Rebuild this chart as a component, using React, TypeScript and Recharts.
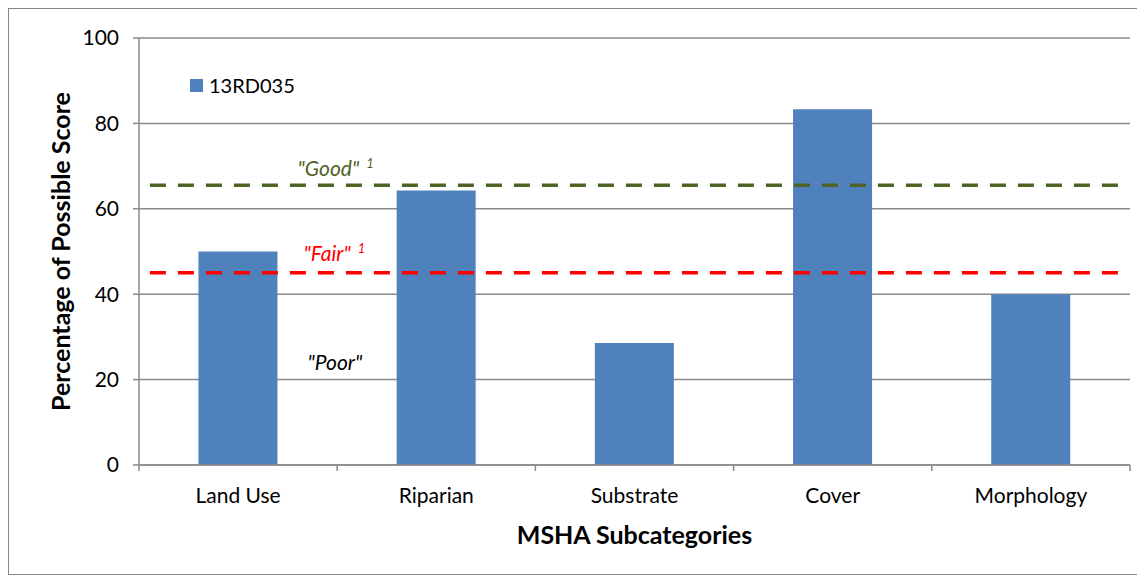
import React from "react";
import {
  ComposedChart,
  Bar,
  XAxis,
  YAxis,
  CartesianGrid,
  ReferenceLine,
  ReferenceDot,
  Legend,
} from "recharts";

const categories = ["Land Use", "Riparian", "Substrate", "Cover", "Morphology"];
const scores = [50, 64.3, 28.6, 83.3, 40];
const yTicks = [0, 20, 40, 60, 80, 100];
const seriesName = "13RD035";
const goodThreshold = 65.5;
const fairThreshold = 45;
// threshold line extent, in category-band units (0..5)
const lineStart = 0.055;
const lineEnd = 4.94;
// annotation anchors: [band position, value]
const goodLabelPos = [0.8, 67.7];
const fairLabelPos = [0.83, 47.8];
const poorLabelPos = [0.85, 22.2];

const data = categories.map((c, i) => ({ name: c, score: scores[i], pos: i + 0.5 }));

const GRID = "#8a8a8a";
const FONT = "Lato, 'Noto Sans', sans-serif";

const CatTick = (props: any) => {
  const { x, y, payload, index, visibleTicksCount } = props;
  const off = payload && payload.offset != null ? payload.offset : 0;
  const isLast = index === (visibleTicksCount ?? categories.length) - 1;
  return (
    <g>
      <line x1={x - off} x2={x - off} y1={y} y2={y + 6} stroke={GRID} strokeWidth={1.5} />
      {isLast && (
        <line x1={x + off} x2={x + off} y1={y} y2={y + 6} stroke={GRID} strokeWidth={1.5} />
      )}
      <text x={x} y={y + 38} textAnchor="middle" fill="#000" fontSize={21} fontFamily={FONT}>
        {payload.value}
      </text>
    </g>
  );
};

const makeShape = (text: string, color: string, sup: boolean) => (p: any) => (
  <text x={p.cx} y={p.cy} fill={color} fontFamily={FONT} fontStyle="italic" fontSize={21}>
    {text}
    {sup && (
      <tspan dx={7} dy={-8} fontSize={13}>
        1
      </tspan>
    )}
  </text>
);

const LegendContent = () => (
  <div style={{ display: "flex", alignItems: "center", fontFamily: FONT, fontSize: 20, color: "#000" }}>
    <div style={{ width: 13, height: 13, background: "#4F81BD", marginRight: 6 }} />
    <span>{seriesName}</span>
  </div>
);

export default function App() {
  return (
    <div style={{ width: 1131, height: 565, border: "1px solid #868686", background: "#fff" }}>
      <ComposedChart
        width={1131}
        height={565}
        data={data}
        margin={{ top: 29, right: 10, bottom: 0, left: 0 }}
        barCategoryGap="30%"
      >
        <CartesianGrid vertical={false} stroke={GRID} strokeWidth={1.5} />
        <XAxis
          dataKey="name"
          tickLine={false}
          tickSize={0}
          tickMargin={0}
          height={109}
          axisLine={{ stroke: GRID, strokeWidth: 1.5 }}
          tick={<CatTick />}
          interval={0}
          label={{
            value: "MSHA Subcategories",
            position: "insideBottom",
            offset: 30,
            fill: "#000",
            fontSize: 25,
            fontWeight: "bold",
            fontFamily: FONT,
          }}
        />
        <XAxis
          xAxisId="n"
          dataKey="pos"
          type="number"
          domain={[0, 5]}
          allowDataOverflow
          hide
        />
        <YAxis
          domain={[0, 100]}
          ticks={yTicks}
          width={130}
          tickSize={6}
          tickMargin={14}
          interval={0}
          axisLine={{ stroke: GRID, strokeWidth: 1.5 }}
          tickLine={{ stroke: GRID, strokeWidth: 1.5 }}
          tick={{ fill: "#000", fontSize: 21, fontFamily: FONT }}
          label={{
            content: (p: any) => {
              const vb = p.viewBox || {};
              const cx = vb.x + 51;
              const cy = vb.y + vb.height / 2;
              return (
                <text
                  x={cx}
                  y={cy}
                  transform={`rotate(-90 ${cx} ${cy})`}
                  textAnchor="middle"
                  dominantBaseline="central"
                  fill="#000"
                  fontSize={25}
                  fontWeight="bold"
                  fontFamily={FONT}
                >
                  Percentage of Possible Score
                </text>
              );
            },
          }}
        />
        <Legend
          layout="horizontal"
          verticalAlign="middle"
          align="center"
          content={<LegendContent />}
          wrapperStyle={{ position: "absolute", left: 181, top: 64, width: "auto", height: "auto" }}
        />
        <Bar dataKey="score" name={seriesName} fill="#4F81BD" isAnimationActive={false} />
        <ReferenceLine
          xAxisId="n"
          ifOverflow="visible"
          segment={[
            { x: lineStart, y: goodThreshold },
            { x: lineEnd, y: goodThreshold },
          ]}
          stroke="#4F6228"
          strokeWidth={3.5}
          strokeDasharray="16 12"
        />
        <ReferenceLine
          xAxisId="n"
          ifOverflow="visible"
          segment={[
            { x: lineStart, y: fairThreshold },
            { x: lineEnd, y: fairThreshold },
          ]}
          stroke="#FF0000"
          strokeWidth={3.5}
          strokeDasharray="16 12"
        />
        <ReferenceDot
          xAxisId="n"
          x={goodLabelPos[0]}
          y={goodLabelPos[1]}
          r={1}
          shape={makeShape('"Good"', "#4F6228", true)}
        />
        <ReferenceDot
          xAxisId="n"
          x={fairLabelPos[0]}
          y={fairLabelPos[1]}
          r={1}
          shape={makeShape('"Fair"', "#FF0000", true)}
        />
        <ReferenceDot
          xAxisId="n"
          x={poorLabelPos[0]}
          y={poorLabelPos[1]}
          r={1}
          shape={makeShape('"Poor"', "#000", false)}
        />
      </ComposedChart>
    </div>
  );
}
